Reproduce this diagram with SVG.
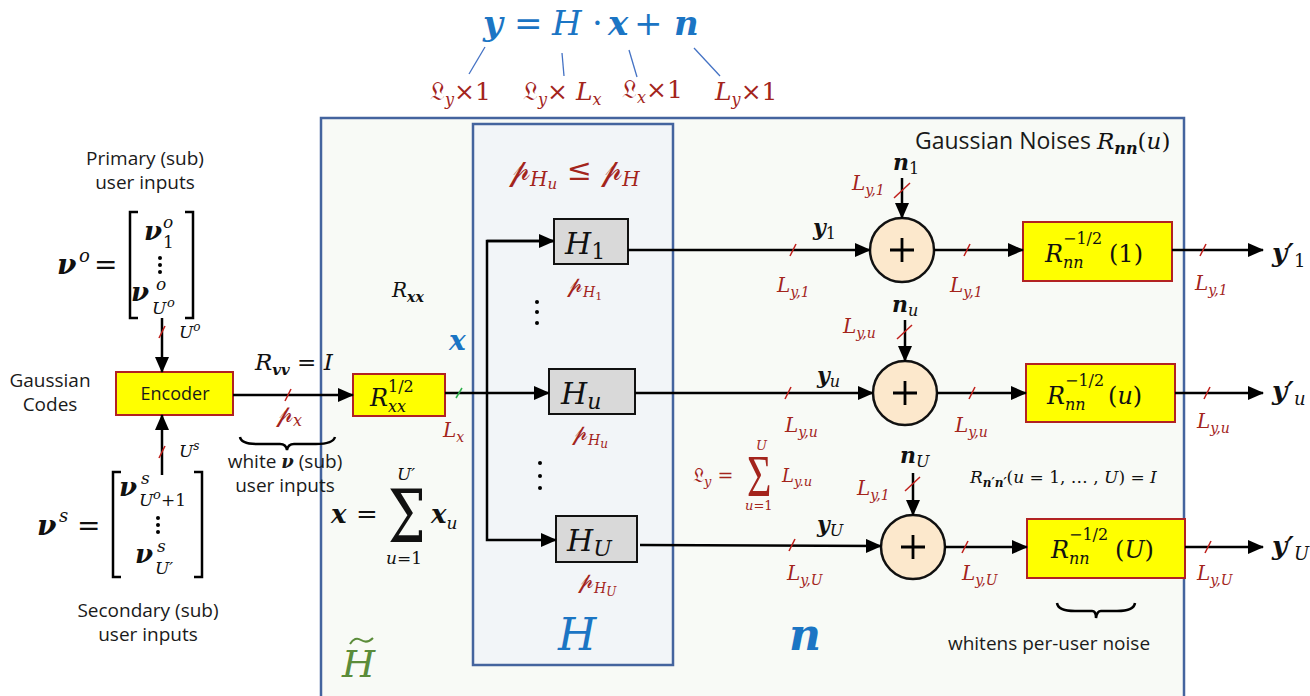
<svg xmlns="http://www.w3.org/2000/svg" xmlns:xlink="http://www.w3.org/1999/xlink" width="1310" height="696" viewBox="0 0 1310 696">
<style>
.mi{font-family:"DejaVu Serif","Liberation Serif",serif;font-style:italic}
.mbi{font-family:"DejaVu Serif","Liberation Serif",serif;font-style:italic;font-weight:bold}
.mr{font-family:"DejaVu Serif","Liberation Serif",serif;font-style:normal;font-weight:normal}
.lt{font-family:"Liberation Serif",serif;font-style:normal}
.fx{font-family:"DejaVu Serif","DejaVu Sans","Noto Sans",serif;font-style:normal}
.sans{font-family:"Open Sans","Noto Sans",sans-serif;fill:#1a1a1a}
.red{fill:#a3241c}
.blue{fill:#1b75c4}
.blk{fill:#111}
.ybox{fill:#ffff00;stroke:#b22222;stroke-width:2}
.gbox{fill:#d9d9d9;stroke:#111;stroke-width:2}
.add{fill:#fce8cc;stroke:#111;stroke-width:2.5}
.wire{stroke:#000;stroke-width:2.5;fill:none}
.tick{stroke:#c0201c;stroke-width:1.5}
.lead{stroke:#4472c4;stroke-width:1.3}
</style>
<defs>
<marker id="ah" markerWidth="16" markerHeight="14" refX="15" refY="7" orient="auto" markerUnits="userSpaceOnUse"><path d="M0,0 L16,7 L0,14 z" fill="#000"/></marker>
<path id="tk" d="M-3,6 L3,-6" class="tick"/>
</defs>

<!-- background boxes -->
<g id="outer-box"><rect x="321" y="118" width="863" height="600" fill="#f8faf6" stroke="#44649e" stroke-width="2.5"/></g>
<g id="H-box"><rect x="473" y="124" width="200" height="541" fill="#f2f5f8" stroke="#44649e" stroke-width="2.5"/></g>

<!-- top equation -->
<g id="equation">
<text class="mbi blue" x="483" y="35" font-size="34">y</text>
<text class="mr blue" x="514" y="35" font-size="34">=</text>
<text class="mi blue" x="552" y="35" font-size="34">H</text>
<text class="mr blue" x="592" y="35" font-size="34">·</text>
<text class="mbi blue" x="608" y="35" font-size="34">x</text>
<text class="mr blue" x="634" y="35" font-size="34">+</text>
<text class="mbi blue" x="674" y="35" font-size="34">n</text>
<line class="lead" x1="485" y1="47" x2="469" y2="74"/>
<line class="lead" x1="562" y1="53" x2="564" y2="76"/>
<line class="lead" x1="629" y1="50" x2="637" y2="77"/>
<line class="lead" x1="694" y1="48" x2="720" y2="76"/>
<text class="red" x="430" y="100" font-size="25"><tspan class="fx">𝔏</tspan><tspan class="mi" font-size="16" dy="5">y</tspan><tspan class="mr" dy="-5">×1</tspan></text>
<text class="red" x="523" y="100" font-size="25"><tspan class="fx">𝔏</tspan><tspan class="mi" font-size="16" dy="5">y</tspan><tspan class="mr" dy="-5">× </tspan><tspan class="mi">L</tspan><tspan class="mi" font-size="16" dy="5">x</tspan></text>
<text class="red" x="622" y="98" font-size="25"><tspan class="fx">𝔏</tspan><tspan class="mi" font-size="16" dy="5">x</tspan><tspan class="mr" dy="-5">×1</tspan></text>
<text class="red" x="715" y="100" font-size="25"><tspan class="mi">L</tspan><tspan class="mi" font-size="16" dy="5">y</tspan><tspan class="mr" dy="-5">×1</tspan></text>
</g>

<!-- primary inputs -->
<g id="primary-inputs">
<text class="sans" x="145" y="165" font-size="19" text-anchor="middle">Primary (sub)</text>
<text class="sans" x="145" y="189" font-size="19" text-anchor="middle">user inputs</text>
<text class="mbi blk" x="57" y="274" font-size="28">ν</text>
<text class="mi blk" x="79" y="262" font-size="18">o</text>
<text class="mr blk" x="94" y="274" font-size="28">=</text>
<path d="M138,212 H130 V318 H138 M185,212 H193 V318 H185" class="wire" stroke-width="2.2"/>
<text class="mbi blk" x="144" y="240" font-size="26">ν</text>
<text class="mi blk" x="163" y="228" font-size="17">o</text>
<text class="mr blk" x="163" y="248" font-size="17">1</text>
<circle cx="160" cy="258" r="2"/><circle cx="160" cy="265" r="2"/><circle cx="160" cy="272" r="2"/>
<text class="mbi blk" x="131" y="301" font-size="26">ν</text>
<text class="mi blk" x="156" y="290" font-size="17">o</text>
<text class="mi blk" x="152" y="314" font-size="17">U</text>
<text class="mi blk" x="167" y="307" font-size="13">o</text>
</g>

<g id="gaussian-codes">
<text class="sans" x="50" y="387" font-size="19" text-anchor="middle">Gaussian</text>
<text class="sans" x="50" y="411" font-size="19" text-anchor="middle">Codes</text>
</g>

<g id="encoder">
<rect class="ybox" x="116" y="372" width="117" height="43"/>
<text class="sans" x="175" y="400" font-size="18" text-anchor="middle">Encoder</text>
</g>

<!-- secondary inputs -->
<g id="secondary-inputs">
<text class="mbi blk" x="37" y="535" font-size="28">ν</text>
<text class="mi blk" x="59" y="522" font-size="18">s</text>
<text class="mr blk" x="77" y="535" font-size="28">=</text>
<path d="M121,472 H113 V577 H121 M194,472 H202 V577 H194" class="wire" stroke-width="2.2"/>
<text class="mbi blk" x="119" y="496" font-size="26">ν</text>
<text class="mi blk" x="141" y="484" font-size="17">s</text>
<text class="mi blk" x="139" y="506" font-size="17">U</text>
<text class="mi blk" x="153" y="499" font-size="13">o</text>
<text class="mr blk" x="161" y="506" font-size="17">+1</text>
<circle cx="158" cy="518" r="2"/><circle cx="158" cy="525" r="2"/><circle cx="158" cy="532" r="2"/>
<text class="mbi blk" x="135" y="563" font-size="26">ν</text>
<text class="mi blk" x="157" y="552" font-size="17">s</text>
<text class="mi blk" x="155" y="574" font-size="17">U′</text>
<text class="sans" x="148" y="617" font-size="19" text-anchor="middle">Secondary (sub)</text>
<text class="sans" x="148" y="641" font-size="19" text-anchor="middle">user inputs</text>
</g>

<!-- labels near encoder output -->
<g id="rvv-label">
<text class="mi blk" x="255" y="370" font-size="23">R<tspan class="mbi" font-size="15" dy="5">vv</tspan><tspan class="mr" dy="-5"> = </tspan>I</text>
<text class="red" x="276" y="422" font-size="24"><tspan class="fx">𝓅</tspan><tspan class="mi" font-size="16" dy="4">x</tspan></text>
<path d="M240,437 Q241,444 258,444 L280,444 Q286,444 287,450 Q288,444 294,444 L316,444 Q333,444 335,437" class="wire" stroke-width="2"/>
<text class="sans" x="285" y="468" font-size="19" text-anchor="middle">white <tspan class="mbi" font-size="18">ν</tspan> (sub)</text>
<text class="sans" x="285" y="492" font-size="19" text-anchor="middle">user inputs</text>
</g>

<g id="Rxx-box">
<rect class="ybox" x="353" y="374" width="92" height="42"/>
<text class="mi blk" x="370" y="406" font-size="24">R</text>
<text class="mr blk" x="388" y="392" font-size="16">1/2</text>
<text class="mi blk" x="388" y="412" font-size="16">xx</text>
</g>

<g id="x-labels">
<text class="mi blk" x="392" y="297" font-size="20">R<tspan class="mbi" font-size="14" dy="5">xx</tspan></text>
<text class="mbi blue" x="449" y="350" font-size="28">x</text>
<text class="red mi" x="443" y="437" font-size="20">L<tspan font-size="14" dy="5">x</tspan></text>
<text class="mbi blk" x="331" y="523" font-size="26">x</text>
<text class="mr blk" x="356" y="523" font-size="26">=</text>
<text class="mr blk" transform="translate(388,542) scale(0.95,1.3)" font-size="56">Σ</text>
<text class="mi blk" x="397" y="480" font-size="17">U′</text>
<text class="mi blk" x="386" y="564" font-size="17">u<tspan class="mr">=1</tspan></text>
<text class="mbi blk" x="431" y="523" font-size="26">x<tspan class="mi" font-weight="normal" font-size="17" dy="6">u</tspan></text>
<text class="mi" x="342" y="677" font-size="38" fill="#5b8c3a">H</text>
<path d="M350,644 Q355,636 361,640 T373,638" stroke="#5b8c3a" stroke-width="2" fill="none"/>
</g>

<!-- H blocks -->
<g id="H-power"><text class="red" x="509" y="180" font-size="30"><tspan class="fx">𝓅</tspan><tspan class="mi" font-size="20" dy="6">H</tspan><tspan class="mi" font-size="15" dy="3">u</tspan><tspan class="mr" dy="-9"> ≤ </tspan><tspan class="fx">𝓅</tspan><tspan class="mi" font-size="20" dy="6">H</tspan></text></g>

<g id="H1">
<rect class="gbox" x="554" y="219" width="74" height="45"/>
<text class="mi blk" x="565" y="254" font-size="30">H<tspan class="mr" font-size="22" dy="5">1</tspan></text>
<text class="red" x="567" y="292" font-size="22"><tspan class="fx">𝓅</tspan><tspan class="mi" font-size="14" dy="5">H</tspan><tspan class="mr" font-size="11" dy="3">1</tspan></text>
</g>
<g id="dots1"><circle cx="537" cy="302" r="2"/><circle cx="537" cy="312" r="2"/><circle cx="537" cy="323" r="2"/></g>

<g id="Hu">
<rect class="gbox" x="549" y="369" width="86" height="45"/>
<text class="mi blk" x="561" y="404" font-size="30">H<tspan font-size="22" dy="5">u</tspan></text>
<text class="red" x="572" y="440" font-size="22"><tspan class="fx">𝓅</tspan><tspan class="mi" font-size="14" dy="5">H</tspan><tspan class="mi" font-size="12" dy="3">u</tspan></text>
</g>
<g id="dots2"><circle cx="540" cy="463" r="2"/><circle cx="540" cy="476" r="2"/><circle cx="540" cy="488" r="2"/></g>

<g id="HU">
<rect class="gbox" x="556" y="516" width="81" height="46"/>
<text class="mi blk" x="567" y="551" font-size="30">H<tspan font-size="22" dy="5">U</tspan></text>
<text class="red" x="578" y="588" font-size="22"><tspan class="fx">𝓅</tspan><tspan class="mi" font-size="14" dy="5">H</tspan><tspan class="mi" font-size="12" dy="3">U</tspan></text>
</g>
<text class="mi blue" x="558" y="650" font-size="44">H</text>

<!-- noise region -->
<text class="sans" x="915" y="149" font-size="23">Gaussian Noises <tspan class="mi" font-size="23" fill="#111">R</tspan><tspan class="mbi" font-size="16" dy="5" fill="#111">nn</tspan><tspan class="mr" font-size="23" dy="-5" fill="#111">(</tspan><tspan class="mi" font-size="23" fill="#111">u</tspan><tspan class="mr" font-size="23" fill="#111">)</tspan></text>

<g id="adder1">
<circle class="add" cx="902" cy="250" r="32"/>
<path d="M890,250 H914 M902,238 V262" stroke="#000" stroke-width="2.8"/>
</g>
<g id="adder2">
<circle class="add" cx="905" cy="393" r="32"/>
<path d="M893,393 H917 M905,381 V405" stroke="#000" stroke-width="2.8"/>
</g>
<g id="adder3">
<circle class="add" cx="913" cy="547" r="32"/>
<path d="M901,547 H925 M913,535 V559" stroke="#000" stroke-width="2.8"/>
</g>

<g id="whiten1">
<rect class="ybox" x="1023" y="222" width="149" height="59"/>
<text class="mi blk" x="1045" y="262" font-size="24">R</text>
<text class="mr blk" x="1063" y="244" font-size="16">−1/2</text>
<text class="mi blk" x="1063" y="268" font-size="16">nn</text>
<text class="mr blk" x="1109" y="262" font-size="24">(1)</text>
</g>
<g id="whiten2">
<rect class="ybox" x="1026" y="364" width="149" height="58"/>
<text class="mi blk" x="1047" y="404" font-size="24">R</text>
<text class="mr blk" x="1065" y="386" font-size="16">−1/2</text>
<text class="mi blk" x="1065" y="410" font-size="16">nn</text>
<text class="mr blk" x="1108" y="404" font-size="24">(<tspan class="mi">u</tspan>)</text>
</g>
<g id="whiten3">
<rect class="ybox" x="1027" y="519" width="158" height="59"/>
<text class="mi blk" x="1051" y="558" font-size="24">R</text>
<text class="mr blk" x="1069" y="540" font-size="16">−1/2</text>
<text class="mi blk" x="1069" y="564" font-size="16">nn</text>
<text class="mr blk" x="1115" y="558" font-size="24">(<tspan class="mi">U</tspan>)</text>
</g>

<!-- row labels -->
<g id="row-labels">
<text class="mbi blk" x="813" y="235" font-size="22">y<tspan class="mr" font-size="16" dy="4">1</tspan></text>
<text class="red mi" x="777" y="292" font-size="20">L<tspan font-size="14" dy="5">y,1</tspan></text>
<text class="red mi" x="950" y="292" font-size="20">L<tspan font-size="14" dy="5">y,1</tspan></text>
<text class="mbi blk" x="893" y="170" font-size="22">n<tspan class="mr" font-size="16" dy="4">1</tspan></text>
<text class="red mi" x="852" y="190" font-size="20">L<tspan font-size="14" dy="5">y,1</tspan></text>
<text class="red mi" x="1195" y="290" font-size="20">L<tspan font-size="14" dy="5">y,1</tspan></text>
<text class="mbi blk" x="1272" y="262" font-size="26">y′<tspan class="mr" font-size="18" dy="5">1</tspan></text>

<text class="mbi blk" x="817" y="383" font-size="22">y<tspan class="mi" font-weight="normal" font-size="16" dy="4">u</tspan></text>
<text class="red mi" x="785" y="432" font-size="20">L<tspan font-size="14" dy="5">y,u</tspan></text>
<text class="red mi" x="955" y="432" font-size="20">L<tspan font-size="14" dy="5">y,u</tspan></text>
<text class="mbi blk" x="892" y="312" font-size="22">n<tspan class="mi" font-weight="normal" font-size="16" dy="4">u</tspan></text>
<text class="red mi" x="843" y="333" font-size="20">L<tspan font-size="14" dy="5">y,u</tspan></text>
<text class="red mi" x="1197" y="428" font-size="20">L<tspan font-size="14" dy="5">y,u</tspan></text>
<text class="mbi blk" x="1272" y="400" font-size="26">y′<tspan class="mi" font-weight="normal" font-size="18" dy="5">u</tspan></text>

<text class="mbi blk" x="817" y="532" font-size="22">y<tspan class="mi" font-weight="normal" font-size="16" dy="4">U</tspan></text>
<text class="red mi" x="787" y="580" font-size="20">L<tspan font-size="14" dy="5">y,U</tspan></text>
<text class="red mi" x="962" y="580" font-size="20">L<tspan font-size="14" dy="5">y,U</tspan></text>
<text class="mbi blk" x="900" y="463" font-size="22">n<tspan class="mi" font-weight="normal" font-size="16" dy="4">U</tspan></text>
<text class="red mi" x="857" y="495" font-size="20">L<tspan font-size="14" dy="5">y,1</tspan></text>
<text class="red mi" x="1197" y="580" font-size="20">L<tspan font-size="14" dy="5">y,U</tspan></text>
<text class="mbi blk" x="1272" y="555" font-size="26">y′<tspan class="mi" font-weight="normal" font-size="18" dy="5">U</tspan></text>
</g>

<g id="sum-labels">
<text class="red" x="693" y="482" font-size="19"><tspan class="fx">𝔏</tspan><tspan class="mi" font-size="13" dy="4">y</tspan><tspan class="mr" dy="-4"> =</tspan></text>
<text class="red lt" transform="translate(747,496) scale(1.05,1.5)" font-size="40">Σ</text>
<text class="red mi" x="756" y="450" font-size="13">U</text>
<text class="red mi" x="745" y="510" font-size="13">u<tspan class="mr">=1</tspan></text>
<text class="red mi" x="782" y="482" font-size="18">L<tspan font-size="13" dy="4">y.u</tspan></text>
<text class="mi blk" x="970" y="483" font-size="17">R<tspan class="mbi" font-size="12" dy="4">n′n′</tspan><tspan class="mr" dy="-4">(</tspan>u<tspan class="mr"> = 1, … , </tspan>U<tspan class="mr">) = </tspan>I</text>
</g>

<g id="bottom-labels">
<path d="M1057,603 Q1058,611 1075,611 L1092,611 Q1096,611 1096,618 Q1097,611 1101,611 L1117,611 Q1134,611 1135,603" class="wire" stroke-width="2"/>
<text class="sans" x="1049" y="650" font-size="19" text-anchor="middle">whitens per-user noise</text>
<text class="mbi blue" x="789" y="650" font-size="44">n</text>
</g>

<!-- connectors -->
<g id="connectors">
<line class="wire" x1="162" y1="318" x2="162" y2="372" marker-end="url(#ah)"/>
<line class="wire" x1="162" y1="475" x2="162" y2="415" marker-end="url(#ah)"/>
<line class="wire" x1="233" y1="395" x2="353" y2="395" marker-end="url(#ah)"/>
<line class="wire" x1="445" y1="393" x2="549" y2="393" marker-end="url(#ah)"/>
<path class="wire" d="M553,241 H487 V540 H556" marker-end="url(#ah)"/>
<path class="wire" d="M487,241 H554" marker-end="url(#ah)"/>
<line class="wire" x1="628" y1="250" x2="870" y2="250" marker-end="url(#ah)"/>
<line class="wire" x1="635" y1="393" x2="873" y2="393" marker-end="url(#ah)"/>
<line class="wire" x1="640" y1="545" x2="881" y2="546" marker-end="url(#ah)"/>
<line class="wire" x1="902" y1="178" x2="902" y2="218" marker-end="url(#ah)"/>
<line class="wire" x1="905" y1="320" x2="905" y2="361" marker-end="url(#ah)"/>
<line class="wire" x1="913" y1="473" x2="913" y2="515" marker-end="url(#ah)"/>
<line class="wire" x1="934" y1="250" x2="1023" y2="250" marker-end="url(#ah)"/>
<line class="wire" x1="937" y1="393" x2="1026" y2="393" marker-end="url(#ah)"/>
<line class="wire" x1="945" y1="547" x2="1027" y2="547" marker-end="url(#ah)"/>
<line class="wire" x1="1172" y1="250" x2="1263" y2="250" marker-end="url(#ah)"/>
<line class="wire" x1="1175" y1="393" x2="1263" y2="393" marker-end="url(#ah)"/>
<line class="wire" x1="1185" y1="547" x2="1263" y2="547" marker-end="url(#ah)"/>
<use href="#tk" x="162" y="332"/>
<use href="#tk" x="162" y="452"/>
<use href="#tk" x="288" y="395"/>
<line x1="456" y1="398" x2="462" y2="388" stroke="#2db04a" stroke-width="1.5"/>
<use href="#tk" x="793" y="250"/>
<use href="#tk" x="967" y="250"/>
<use href="#tk" x="1203" y="250"/>
<line class="tick" x1="894" y1="198" x2="910" y2="183"/>
<line class="tick" x1="897" y1="339" x2="912" y2="325"/>
<line class="tick" x1="905" y1="491" x2="920" y2="477"/>
<use href="#tk" x="788" y="393"/>
<use href="#tk" x="972" y="393"/>
<use href="#tk" x="1207" y="393"/>
<use href="#tk" x="792" y="545"/>
<use href="#tk" x="965" y="547"/>
<use href="#tk" x="1208" y="547"/>
</g>
<g id="U-labels">
<text class="mi blk" x="179" y="338" font-size="17">U<tspan font-size="12" dy="-7">o</tspan></text>
<text class="mi blk" x="179" y="457" font-size="17">U<tspan font-size="12" dy="-7">s</tspan></text>
</g>
</svg>
